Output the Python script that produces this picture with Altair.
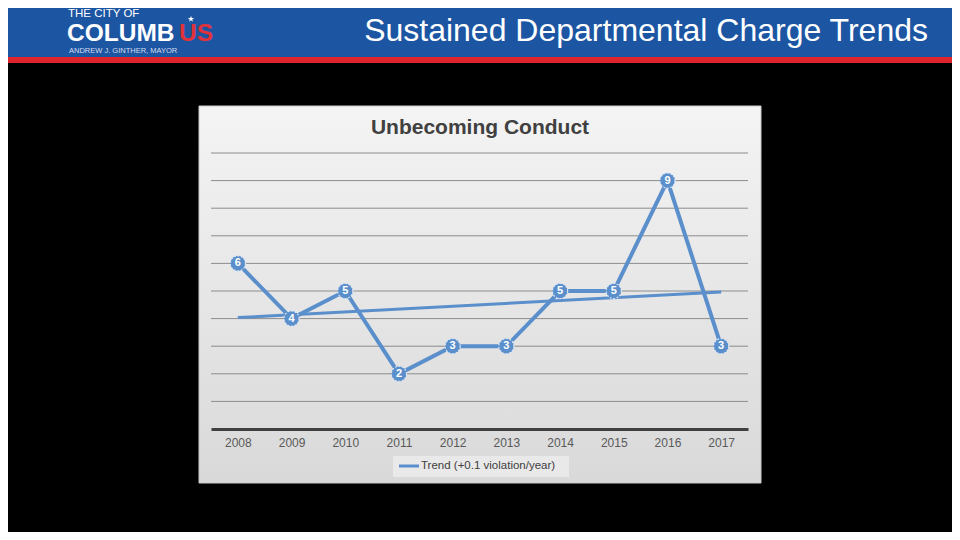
import altair as alt
import pandas as pd

# ---- data ----
YEARS = [2008, 2009, 2010, 2011, 2012, 2013, 2014, 2015, 2016, 2017]
VALUES = [6, 4, 5, 2, 3, 3, 5, 5, 9, 3]
GRID_LEVELS = [1, 2, 3, 4, 5, 6, 7, 8, 9, 10]
PAGE_TITLE = "Sustained Departmental Charge Trends"
CHART_TITLE = "Unbecoming Conduct"
LEGEND_LABEL = "Trend (+0.1 violation/year)"
LOGO_TOP = "THE CITY OF"
LOGO_MAIN = "COLUMB"
LOGO_RED = "US"
LOGO_SUB = "ANDREW J. GINTHER, MAYOR"

df = pd.DataFrame({"year": YEARS, "value": VALUES})
grid_df = pd.DataFrame({"level": GRID_LEVELS})

# plot area in page coordinates
PX0, PY0, PW, PH = 211, 153, 537, 276


def px(x):
    return x - PX0


def py(y):
    return y - PY0


one = alt.Data(values=[{"k": 1}])
BLUE = "#5A8FCB"
FONT = "Liberation Sans"
STAR = ("M0,-1L0.2245,-0.309L0.951,-0.309L0.363,0.118L0.588,0.809L0,0.382"
        "L-0.588,0.809L-0.363,0.118L-0.951,-0.309L-0.2245,-0.309Z")

header = alt.Chart(one).mark_rect(color="#1C55A2").encode(
    x=alt.value(px(0)), x2=alt.value(px(960)), y=alt.value(py(0)), y2=alt.value(py(57)))
stripe = alt.Chart(one).mark_rect(color="#E0242B").encode(
    x=alt.value(px(0)), x2=alt.value(px(960)), y=alt.value(py(57)), y2=alt.value(py(63)))

panel = alt.Chart(one).mark_rect(
    fill=alt.Gradient(gradient="linear",
                      stops=[alt.GradientStop(offset=0, color="#f4f4f4"),
                             alt.GradientStop(offset=1, color="#d9d9d9")],
                      x1=0, x2=0, y1=0, y2=1),
    stroke="#c8c8c8", strokeWidth=1,
).encode(x=alt.value(px(199)), x2=alt.value(px(761)), y=alt.value(py(106)), y2=alt.value(py(483)))


def txt(text, x, y, size, color="white", weight="normal", align="left", font=FONT,
        baseline="alphabetic"):
    return alt.Chart(one).mark_text(
        text=text, font=font, fontSize=size, fontWeight=weight, color=color,
        align=align, baseline=baseline,
    ).encode(x=alt.value(px(x)), y=alt.value(py(y)))


page_title = txt(PAGE_TITLE, 928, 41, 32, align="right")
logo1 = txt(LOGO_TOP, 68, 16.5, 11.5)
logo2 = txt(LOGO_MAIN, 67, 41, 24.5, weight="bold")
logo3 = txt(LOGO_RED, 179, 41, 24.5, color="#E0323A", weight="bold")
logo4 = txt(LOGO_SUB, 69, 53, 7.5, color="#d5dced")
star = alt.Chart(one).mark_point(shape=STAR, filled=True, size=45, color="white", opacity=1).encode(
    x=alt.value(px(191)), y=alt.value(py(19)))

chart_title = txt(CHART_TITLE, 480, 134, 21, color="#404040", weight="bold", align="center")

legend_box = alt.Chart(one).mark_rect(color="#e9e9e9").encode(
    x=alt.value(px(393)), x2=alt.value(px(569)), y=alt.value(py(456)), y2=alt.value(py(477)))
legend_line = alt.Chart(one).mark_rule(color=BLUE, strokeWidth=3).encode(
    x=alt.value(px(399)), x2=alt.value(px(419)), y=alt.value(py(466)))
legend_text = txt(LEGEND_LABEL, 421, 466, 11.5, color="#404040", baseline="middle")

xenc = alt.X("year:Q",
             scale=alt.Scale(domain=[2007.5, 2017.5], nice=False, zero=False),
             axis=alt.Axis(values=YEARS, format="d", title=None, grid=False, ticks=False,
                           labelFont=FONT, labelFontSize=12, labelColor="#595959",
                           labelPadding=8, domainColor="#404040", domainWidth=3, zindex=1))
yenc = alt.Y("value:Q", scale=alt.Scale(domain=[0, 10], nice=False), axis=None)

gridlines = alt.Chart(grid_df).mark_rule(color="#8c8c8c", strokeWidth=1).encode(
    y=alt.Y("level:Q", scale=alt.Scale(domain=[0, 10], nice=False), axis=None))

base = alt.Chart(df)
trend = base.mark_line(color=BLUE, strokeWidth=3).transform_regression(
    "year", "value").encode(x=xenc, y=yenc)
line = base.mark_line(color=BLUE, strokeWidth=4).encode(x=xenc, y=yenc)
points = base.mark_point(filled=True, size=230, fill=BLUE, stroke="#d6e4f5",
                         strokeWidth=1.2, strokeDash=[2, 1.5], opacity=1).encode(x=xenc, y=yenc)
labels = base.mark_text(font=FONT, fontSize=11, fontWeight="bold", color="white",
                        baseline="middle", align="center").encode(
    x=xenc, y=yenc, text="value:Q")

chart = alt.layer(
    header, stripe, logo1, logo2, logo3, logo4, star, page_title,
    panel, chart_title, legend_box, legend_line, legend_text,
    gridlines, trend, line, points, labels,
).properties(
    width=PW, height=PH,
    padding={"left": 203, "top": 145, "right": 204, "bottom": 103},
    autosize=alt.AutoSizeParams(type="none"),
    background="black",
).configure_view(stroke=None)

chart.save("out.html", embed_options={"renderer": "svg", "actions": False})
